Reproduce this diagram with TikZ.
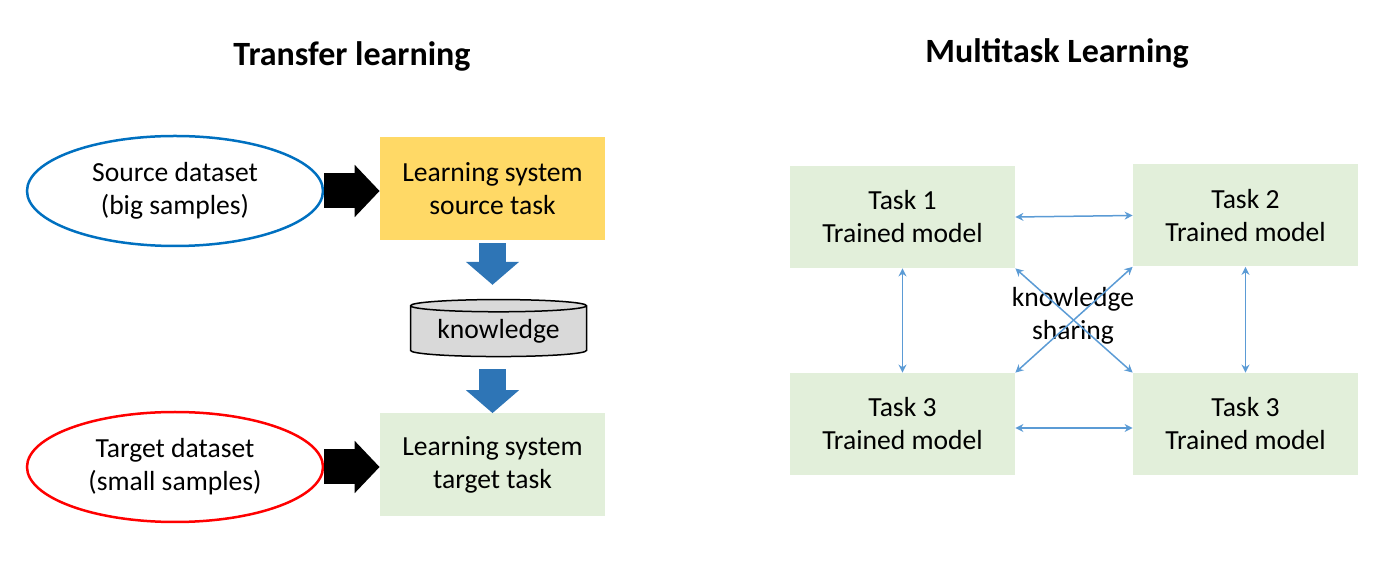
\documentclass[tikz,border=0pt]{standalone}
\usepackage{fontspec}
\setmainfont{Carlito}
\usetikzlibrary{arrows.meta,shapes.geometric}
\definecolor{srcblue}{HTML}{0070C0}
\definecolor{tgtred}{HTML}{FF0000}
\definecolor{srcgold}{HTML}{FFD966}
\definecolor{taskgreen}{HTML}{E2EFDA}
\definecolor{flowblue}{HTML}{2E75B6}
\definecolor{shareblue}{HTML}{5B9BD5}
\definecolor{storegray}{HTML}{D9D9D9}

\begin{document}
\begin{tikzpicture}[x=.5pt,y=-.5pt,
  every node/.style={font=\fontsize{13.8}{16.5}\selectfont,align=center,inner sep=0},
  headline/.style={font=\fontsize{17}{20}\selectfont\bfseries},
  dataset/.style={draw,ellipse,line width=1.25pt,minimum width=148pt,minimum height=55pt},
  sysbox/.style={minimum width=112.5pt,minimum height=51.5pt},
  taskbox/.style={fill=taskgreen,minimum width=112.5pt,minimum height=51pt},
  store/.style={draw,fill=storegray,line width=.75pt,cylinder,shape border rotate=90,aspect=.1,minimum width=88pt,minimum height=28.5pt},
  feed/.style={line width=17.5pt,-{Triangle[length=12.5pt,width=25.5pt]}},
  pass/.style={flowblue,line width=13.5pt,-{Triangle[length=11.5pt,width=26pt]}},
  share/.style={shareblue,line width=.75pt,{Stealth[length=4pt,width=4pt]}-{Stealth[length=4pt,width=4pt]}}]
\useasboundingbox (0,0) rectangle (1395,565);
% transfer learning
\node[headline] (tl) at (352,56) {Transfer learning};
\node[dataset,draw=srcblue] (srcset) at (175,191) {Source dataset\\(big samples)};
\node[dataset,draw=tgtred] (tgtset) at (175,467) {Target dataset\\(small samples)};
\node[sysbox,fill=srcgold] (srcsys) at (492.5,188.5) {Learning system\\source task};
\node[sysbox,fill=taskgreen] (tgtsys) at (492.5,465) {Learning system\\target task};
\node[store] (kn) at (498.5,331.5) {knowledge};
\draw[feed] (srcset.east) -- (srcset.east -| srcsys.west);
\draw[feed] (tgtset.east) -- (tgtset.east -| tgtsys.west);
\draw[pass,shorten <=1.5pt,shorten >=7pt] (srcsys.south) -- (srcsys.south |- kn.north);
\draw[pass,shorten <=6pt] (tgtsys.north |- kn.south) -- (tgtsys.north);
% multitask learning
\node[headline] (ml) at (1057,53) {Multitask Learning};
\node[taskbox] (t1) at (902.5,217) {Task 1\\Trained model};
\node[taskbox] (t2) at (1245.5,215.5) {Task 2\\Trained model};
\node[taskbox] (t3) at (902.5,424) {Task 3\\Trained model};
\node[taskbox] (t4) at (1245.5,424) {Task 3\\Trained model};
\node (ks) at (1073,316) {knowledge\\sharing};
\draw[share] (t1.east) -- (t2.west);
\draw[share] ([yshift=-2pt]t3.east) -- ([yshift=-2pt]t4.west);
\draw[share] (t1.south) -- (t3.north);
\draw[share] (t2.south) -- (t4.north);
\draw[share] (t1.south east) -- (t4.north west);
\draw[share] (t2.south west) -- (t3.north east);
\end{tikzpicture}
\end{document}
